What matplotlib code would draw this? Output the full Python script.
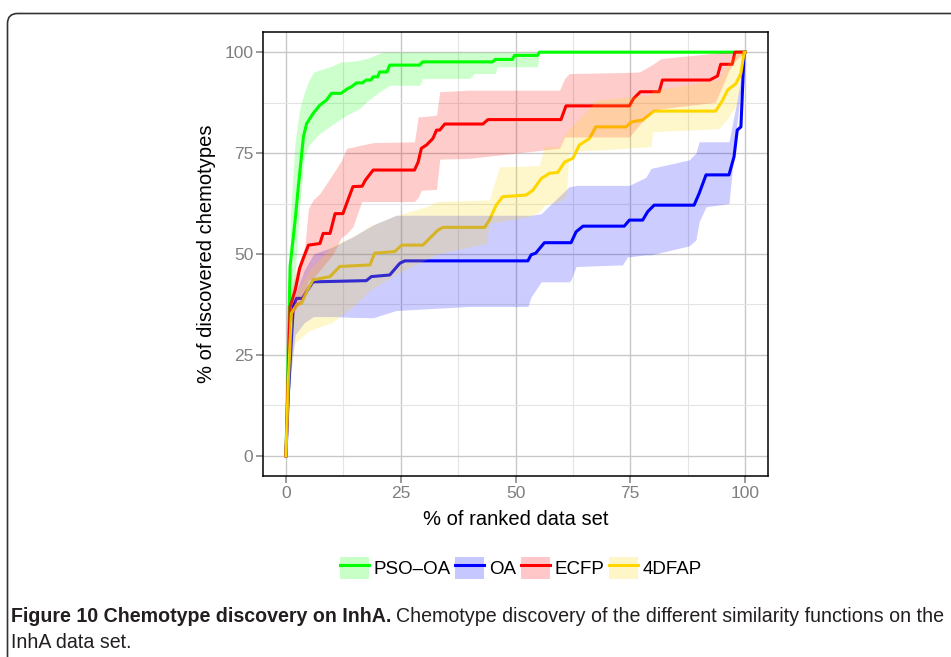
import matplotlib
matplotlib.use("Agg")
import matplotlib.pyplot as plt
from matplotlib.patches import Patch, FancyBboxPatch
from matplotlib.lines import Line2D
from matplotlib.ticker import MultipleLocator

plt.rcParams['font.family'] = ['Liberation Sans', 'DejaVu Sans']

# discovery curves: (% of ranked data set, % of discovered chemotypes)
pso_x = [0, 0.4, 0.9, 2, 2.7, 3.8, 4.5, 5.9, 7.4, 8.8, 9.9, 12, 13.2, 14.2, 15.4, 16.6, 17.5, 18.5, 19, 20, 20.4, 22, 22.6,
         29.1, 29.8, 45, 45.6, 49.3, 49.8, 54.8, 55.2, 100]
pso_y = [0, 20, 47, 58.4, 66.7, 79, 82.3, 84.8, 86.9, 88.1, 89.8, 89.8, 90.8, 91.4, 92.4, 92.4, 93.1, 93.1, 93.9, 93.9, 95.1,
         95.1, 96.8, 96.8, 97.6, 97.6, 98.2, 98.2, 99.2, 99.2, 100, 100]

oa_x = [0, 0.5, 1.6, 2.3, 3.6, 4.5, 5.9, 17.5, 18.6, 22.6, 24.8, 25.9, 52.7, 53.4, 54.4, 56.3, 62.1, 63.2, 64.7, 73.7,
        74.8, 77.7, 78.8, 80.2, 88.9, 90, 91.5, 96.5, 97.6, 98.3, 99.1, 99.8, 100]
oa_y = [0, 15, 37, 39, 39, 40.7, 43.1, 43.4, 44.4, 44.8, 47.7, 48.3, 48.3, 49.8, 50.2, 52.8, 52.8, 55.5, 56.9, 56.9,
        58.4, 58.4, 60.5, 62.1, 62.1, 65, 69.6, 69.6, 74.1, 80.7, 81.5, 100, 100]

ecfp_x = [0, 0.5, 0.9, 2, 3, 3.8, 4.9, 7.4, 8.1, 9.6, 10.7, 12.4, 13.9, 14.6, 16.6, 17.3, 19, 28, 28.8, 29.5, 30.6, 32,
          32.8, 33.5, 34.6, 42.9, 44, 59.9, 61, 74.8, 75.7, 77.2, 81.3, 82, 92.3, 94, 94.7, 97.2, 97.8, 100]
ecfp_y = [0, 20, 37, 41, 46.5, 49, 52.2, 52.6, 55.1, 55.1, 60, 60, 64.6, 66.7, 66.8, 68.3, 70.8, 70.8, 72.8, 76.2, 77,
          78.6, 80.7, 80.7, 82.2, 82.2, 83.3, 83.3, 86.7, 86.7, 88.5, 90.2, 90.2, 93.1, 93.1, 94.1, 97, 97, 100, 100]

dfap_x = [0, 0.5, 1.2, 2.3, 3.4, 4.5, 5.9, 9.6, 11.7, 18.3, 19.3, 23.7, 25.2, 29.8, 31.3, 33.1, 34.2, 43.3, 44.3, 45.8,
          47.2, 52.3, 53.8, 55.6, 57.4, 59.2, 60.7, 62.5, 63.9, 66.1, 67.5, 74.1, 75.2, 77.7, 80.2, 93.6, 95.1, 96.2, 98,
          99.1, 99.8, 100]
dfap_y = [0, 18, 35.3, 37.4, 37.8, 40.7, 43.6, 44.4, 46.9, 47.3, 50.2, 50.6, 52.2, 52.2, 53.9, 55.9, 56.6, 56.6, 58.4, 62.1,
          64.2, 64.6, 65.8, 68.7, 70, 70.2, 72.8, 73.7, 77, 78.6, 81.5, 81.5, 82.7, 83.2, 85.4, 85.4, 88.1, 90.6, 92.2,
          94.7, 100, 100]

# spread bands around each curve
pso_bx = [0, 1, 2, 3, 4, 5, 6, 7, 10, 12, 13.2, 16, 17.5, 20.4, 21.5, 22.6, 29.1, 29.8, 40, 41, 45.6, 46, 54.8, 55.2, 100]
pso_hi = [0, 60, 78, 86, 90, 93, 95, 95.5, 96.5, 97.6, 97.6, 98, 98.4, 99.7, 100, 100, 100, 100, 100, 100, 100, 100, 100,
          100, 100]
pso_lo = [0, 35, 45, 62, 74, 77, 78.2, 79.5, 82, 83.5, 84.4, 86, 87.7, 90.2, 91, 91.8, 91.8, 93.5, 93.5, 94.7, 94.7, 96.4,
          96.4, 100, 100]

oa_bx = [0, 1, 2, 4, 6, 10.3, 14.6, 19, 24, 40, 52.7, 53.4, 55.6, 61.7, 62.1, 63.2, 73.3, 74.4, 74.8, 78.4, 79.5, 87.8,
         89.3, 90, 91.5, 96.5, 98, 100]
oa_hi = [0, 30, 40, 46, 50, 51.8, 54.3, 57.2, 59.6, 59.6, 59.6, 59.6, 60, 66.7, 66.7, 67, 67, 67, 67, 69, 71.2, 73.3, 75,
         77.8, 77.8, 77.8, 86.5, 100]
oa_lo = [0, 20, 30, 33, 34.5, 34.5, 34.3, 34.2, 36, 37, 37, 39.4, 43.1, 43.1, 43.6, 46.9, 47.3, 49.3, 49.3, 49.8, 49.8, 52,
         53.5, 58, 61.7, 62.5, 79.9, 100]

ecfp_bx = [0, 1, 2, 4.1, 4.9, 5.9, 7.4, 10.3, 12, 13.2, 14.6, 16.5, 19, 28, 28.8, 29.5, 32.8, 33.5, 40, 59.6, 60.7, 61.7,
           66, 74.8, 77, 79.9, 81.7, 92.9, 93.6, 96.5, 98, 100]
ecfp_hi = [0, 40, 45, 51.8, 61.3, 63.4, 65, 70, 73, 76.2, 76.5, 77, 77.6, 77.8, 84, 84, 84.4, 90.2, 90.6, 90.6, 93.5, 94.7,
           94.8, 95, 95.1, 97, 98.4, 99.7, 99.8, 100, 100, 100]
ecfp_lo = [0, 33, 36, 40, 43.6, 44, 46, 50, 54, 55, 56.8, 63, 63, 63, 64, 65.8, 66, 73.5, 73.7, 76.2, 79, 79, 79, 79, 82,
           85.6, 86, 87.5, 87.7, 95.5, 98, 100]

dfap_bx = [0, 1, 2, 5, 10, 14.6, 18.3, 24, 31.3, 32.8, 43.6, 44.3, 46.5, 53, 55.2, 56.3, 59.6, 60.3, 61, 61.7, 66, 67.5,
           79.5, 79.9, 93.6, 94.3, 95.8, 98, 100]
dfap_hi = [0, 30, 40, 46, 52, 54.3, 57, 59.5, 62, 63, 63.4, 63.4, 71.6, 71.8, 72, 76.6, 76.6, 79, 80, 81, 86, 88.1, 89.5,
           90.6, 93, 93.5, 96.4, 100, 100]
dfap_lo = [0, 22, 28, 31, 33, 37, 41, 45, 49, 50, 52.6, 57.6, 58, 59.2, 60.5, 62.1, 63, 63.8, 64, 75.3, 75.7, 75.7, 76.6,
           80.3, 81, 81.1, 83, 86.5, 100]

series = [
    ("PSO\u2013OA", "#00ff00", pso_x, pso_y, pso_bx, pso_lo, pso_hi),
    ("OA", "#0000ff", oa_x, oa_y, oa_bx, oa_lo, oa_hi),
    ("ECFP", "#ff0000", ecfp_x, ecfp_y, ecfp_bx, ecfp_lo, ecfp_hi),
    ("4DFAP", "#ffd700", dfap_x, dfap_y, dfap_bx, dfap_lo, dfap_hi),
]

fig = plt.figure(figsize=(9.51, 6.57), dpi=100)
ax = fig.add_axes([263 / 951, 1 - 476 / 657, 505 / 951, 444 / 657])

# lines first, translucent bands laid over them
for name, col, x, y, bx, lo, hi in series:
    ax.plot(x, y, color=col, lw=2.2, solid_joinstyle='round', zorder=2)
for name, col, x, y, bx, lo, hi in series:
    ax.fill_between(bx, lo, hi, color=col, alpha=0.2, lw=0, zorder=3)

ax.set_xlim(-5, 105)
ax.set_ylim(-5, 105)
ax.xaxis.set_major_locator(MultipleLocator(25))
ax.yaxis.set_major_locator(MultipleLocator(25))
ax.xaxis.set_minor_locator(MultipleLocator(12.5))
ax.yaxis.set_minor_locator(MultipleLocator(12.5))
ax.grid(which='major', color='#c8c8c8', lw=1.0)
ax.grid(which='minor', color='#e4e4e4', lw=0.8)
ax.set_axisbelow(True)
ax.tick_params(which='major', length=5, width=1.1, color='#7f7f7f', labelcolor='#7f7f7f', labelsize=12.5, pad=2)
ax.tick_params(which='minor', length=0)
for s in ax.spines.values():
    s.set_color('black')
    s.set_linewidth(1.1)
    s.set_zorder(4)

ax.set_xlabel("% of ranked data set", fontsize=14.5, labelpad=7)
ax.set_ylabel("% of discovered chemotypes", fontsize=14.5, labelpad=6)

handles = [(Patch(facecolor=col, alpha=0.22, edgecolor='none'), Line2D([], [], color=col, lw=2.2))
           for name, col, *_ in series]
fig.legend(handles, [s[0] for s in series], loc='center', bbox_to_anchor=(521 / 951, 1 - 568 / 657), ncol=4,
           frameon=False, fontsize=13.5, handlelength=1.55, handleheight=1.5, handletextpad=0.25, columnspacing=0.25)

# rounded frame around the figure panel
frame = FancyBboxPatch((0.075, -0.2), 9.8, 6.57 - 0.135 + 0.2, boxstyle="round,pad=0,rounding_size=0.1",
                       transform=fig.dpi_scale_trans, fc='none', ec='#333333', lw=1.2)
fig.add_artist(frame)

cap_size = 14.1
t1 = fig.text(11 / 951, 1 - 617 / 657, "Figure 10 Chemotype discovery on InhA.", fontsize=cap_size,
              fontweight='bold', color='#231f20', va='center')
fig.canvas.draw()
bb = t1.get_window_extent()
fig.text((bb.x1 + 5) / 951, 1 - 617 / 657,
         "Chemotype discovery of the different similarity functions on the", fontsize=cap_size,
         color='#231f20', va='center')
fig.text(11 / 951, 1 - 643 / 657, "InhA data set.", fontsize=cap_size, color='#231f20', va='center')

fig.savefig("out.png", dpi=100)
